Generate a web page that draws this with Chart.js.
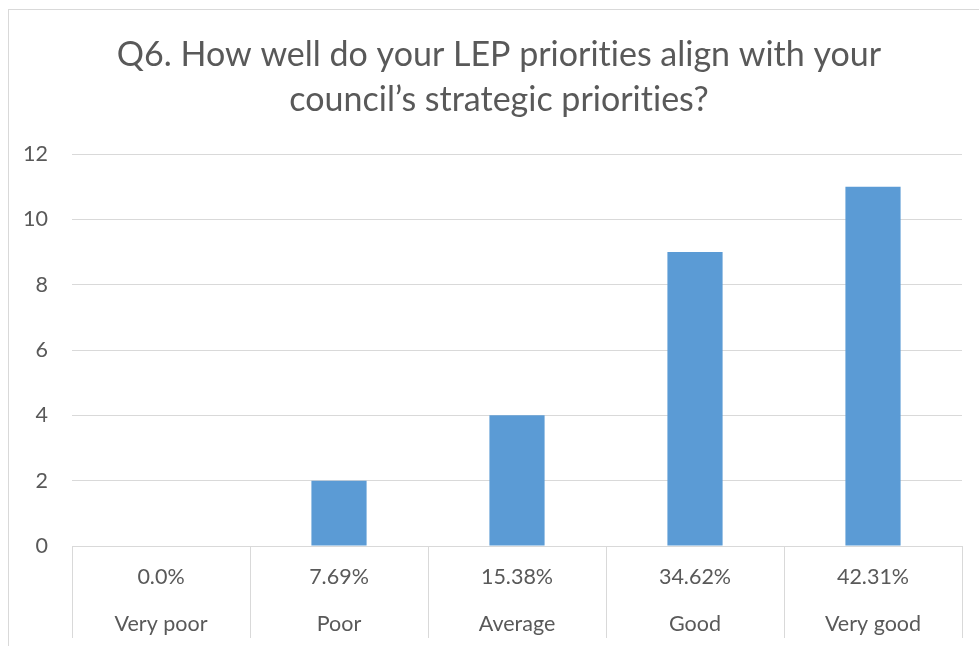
<!DOCTYPE html>
<html>
<head>
<meta charset="utf-8">
<script src="https://cdn.jsdelivr.net/npm/chart.js@4/dist/chart.umd.min.js"></script>
<style>
  html, body { margin: 0; padding: 0; background: #fff; overflow: hidden; }
  #frame {
    position: absolute; left: 8px; top: 9px;
    width: 980px; height: 637px;
    border-left: 1px solid #d9d9d9; border-top: 1px solid #d9d9d9;
    background: #fff;
  }
  #c { display: block; }
</style>
</head>
<body>
<div id="frame"><canvas id="c" width="980" height="637"></canvas></div>
<script>
// Survey answers and response counts
const categories = ['Very poor', 'Poor', 'Average', 'Good', 'Very good'];
const counts = [0, 2, 4, 9, 11];
const shares = ['0.0%', '7.69%', '15.38%', '34.62%', '42.31%'];
const yTicks = [0, 2, 4, 6, 8, 10, 12];
const titleLines = ['Q6. How well do your LEP priorities align with your', 'council\u2019s strategic priorities?'];

const FONT = 'Lato, "Open Sans", sans-serif';
const TEXT = '#595959';
const GRID = '#d9d9d9';

// Each category label is a two-row cell: share on top, name below
const labels = categories.map((c, i) => [shares[i], c]);

// Plain glyphs, no "ti" style ligatures
const plainText = {
  id: 'plainText',
  beforeDraw(chart) { chart.ctx.textRendering = 'optimizeSpeed'; }
};

new Chart(document.getElementById('c'), {
  type: 'bar',
  data: {
    labels: labels,
    datasets: [{
      data: counts,
      yAxisID: 'y',
      backgroundColor: '#5b9bd5',
      borderWidth: 0,
      barPercentage: 0.31,
      categoryPercentage: 1
    }]
  },
  plugins: [plainText],
  options: {
    responsive: false,
    animation: false,
    layout: { padding: 0 },
    plugins: {
      legend: { display: false },
      tooltip: { enabled: false },
      title: {
        display: true,
        text: titleLines,
        color: TEXT,
        font: { family: FONT, size: 34, weight: 'normal', lineHeight: 45 / 34 },
        padding: { top: 23, bottom: 31 }
      }
    },
    scales: {
      x: {
        grid: {
          display: true,
          offset: true,
          drawOnChartArea: false,
          drawTicks: true,
          tickLength: 92,
          color: GRID,
          lineWidth: 1
        },
        border: { display: true, color: GRID },
        ticks: {
          color: TEXT,
          font: { family: FONT, size: 21.5, lineHeight: 47 / 21.5 },
          padding: -84.5,
          maxRotation: 0,
          autoSkip: false
        },
        afterFit(scale) { scale.height = 101; }
      },
      y: {
        position: 'left',
        min: 0,
        max: 12,
        afterBuildTicks(scale) { scale.ticks = yTicks.map(v => ({ value: v })); },
        grid: { color: GRID, lineWidth: 1, drawTicks: false },
        border: { display: false },
        ticks: {
          color: TEXT,
          font: { family: FONT, size: 21.5 },
          padding: 24
        },
        afterFit(scale) { scale.width = 63; }
      },
      // empty right-hand margin so the plot stops short of the frame edge
      margin: {
        type: 'linear',
        position: 'right',
        display: true,
        grid: { display: false },
        border: { display: false },
        ticks: { display: false },
        afterFit(scale) { scale.width = 27; }
      }
    }
  }
});
</script>
</body>
</html>
